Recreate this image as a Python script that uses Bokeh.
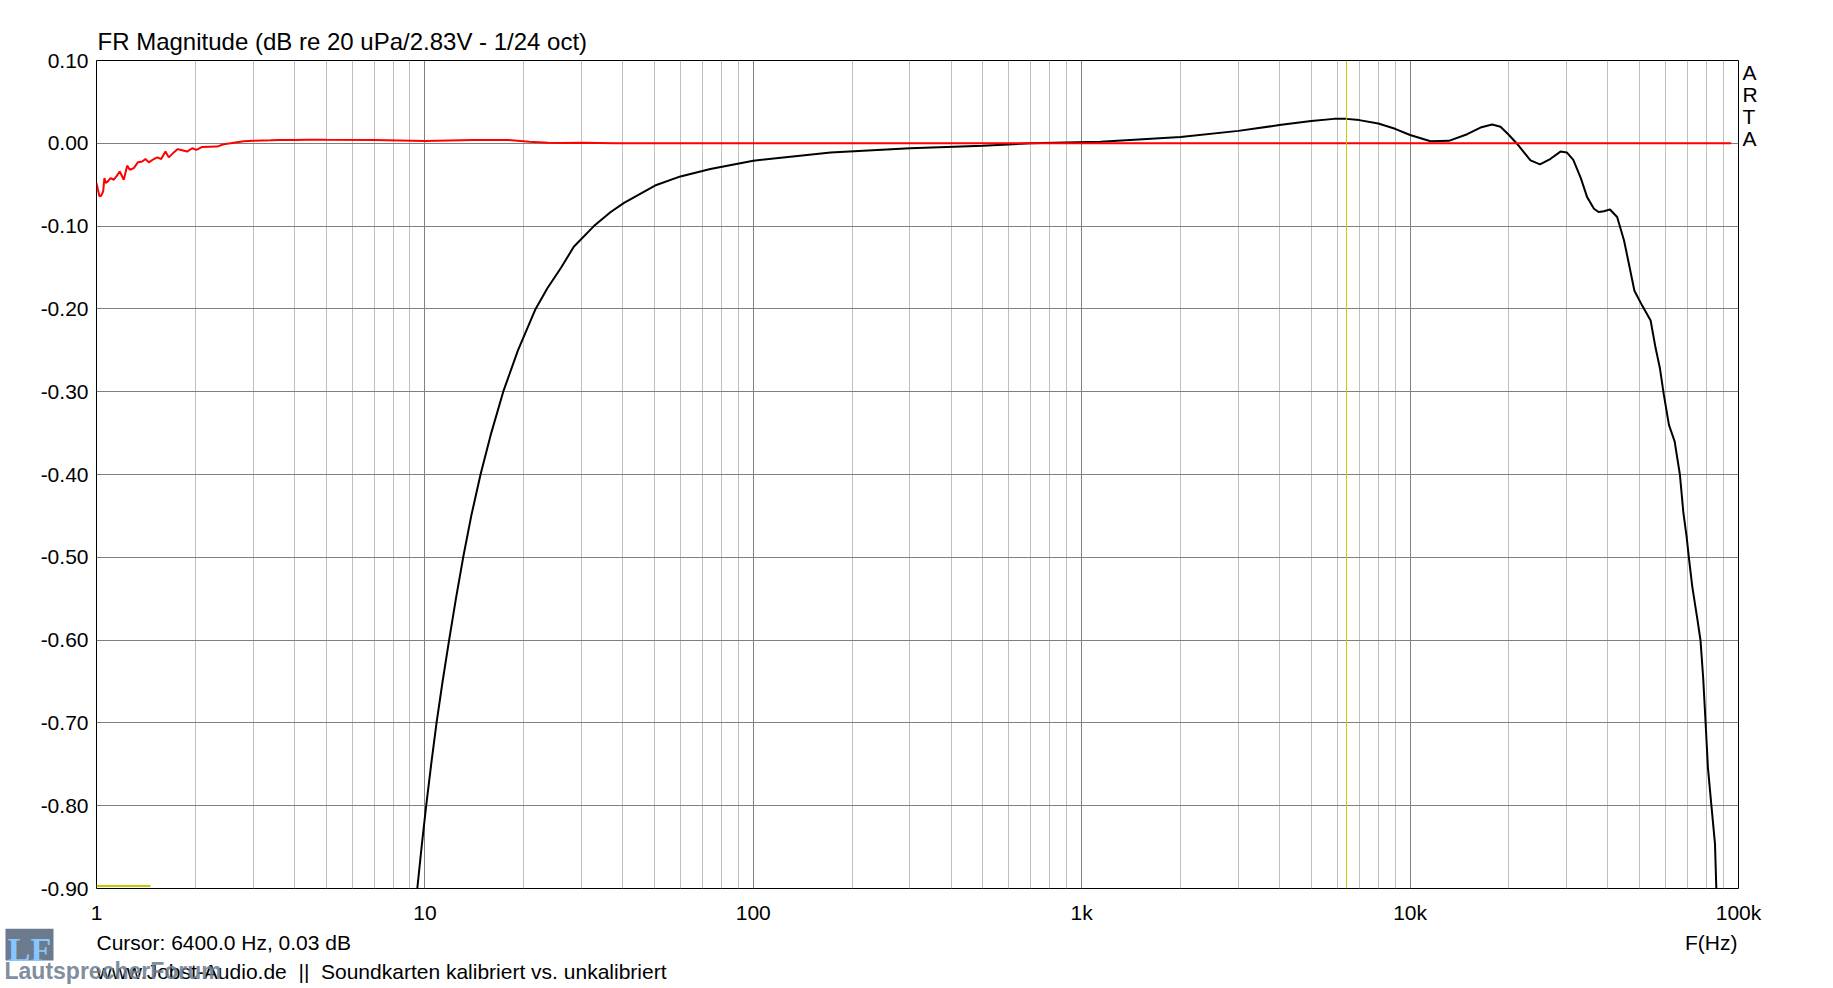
from bokeh.plotting import figure
from bokeh.layouts import column
from bokeh.models import (Range1d, FixedTicker, Label, Span, PrintfTickFormatter,
                          CustomJSTickFormatter, LinearAxis, Title)
from bokeh.embed import file_html
from bokeh.resources import INLINE

FONT = "Liberation Sans"

# ---- data ----
freq_black = [9.48, 9.77, 10.09, 10.45, 10.85, 11.32, 11.85, 12.43, 13.08, 13.84, 14.77, 15.92,
              17.32, 19.2, 21.73, 23.6, 26.0, 28.4, 32.7, 36.8, 40.4, 50.2, 60, 74, 100, 172, 300,
              500, 700, 1141, 2000, 3000, 4000, 5000, 5860, 6400, 7000, 8000, 9000, 10000, 11540,
              13120, 14920, 16380, 17780, 18850, 20000, 21190, 23260, 24860, 26780, 28700, 30000,
              31400, 33100, 34600, 36300, 37500, 38900, 40600, 42700, 44800, 46400, 48200, 50900,
              54000, 55900, 57600, 59200, 61400, 63900, 66300, 67900, 69500, 70600, 72300, 74900,
              76600, 78100, 79400, 80700, 82700, 84800, 85600]
db_black = [-0.90, -0.85, -0.80, -0.75, -0.70, -0.65, -0.60, -0.55, -0.50, -0.45, -0.40, -0.35,
            -0.30, -0.25, -0.20, -0.175, -0.15, -0.125, -0.10, -0.083, -0.072, -0.051, -0.040,
            -0.031, -0.021, -0.011, -0.006, -0.003, 0.0, 0.002, 0.0076, 0.015, 0.022, 0.027,
            0.0295, 0.0295, 0.028, 0.024, 0.0175, 0.010, 0.0024, 0.003, 0.011, 0.019, 0.0227,
            0.020, 0.010, -0.0008, -0.0207, -0.0255, -0.0187, -0.010, -0.011, -0.020, -0.042,
            -0.065, -0.079, -0.083, -0.082, -0.080, -0.089, -0.117, -0.146, -0.178, -0.196,
            -0.214, -0.247, -0.271, -0.303, -0.340, -0.360, -0.40, -0.445, -0.475, -0.50, -0.535,
            -0.574, -0.60, -0.647, -0.70, -0.754, -0.80, -0.846, -0.90]

freq_red = [1.0, 1.005, 1.021, 1.035, 1.048, 1.057, 1.067, 1.083, 1.103, 1.129, 1.150, 1.177, 1.211,
            1.240, 1.263, 1.299, 1.336, 1.378, 1.410, 1.443, 1.495, 1.530, 1.574, 1.622, 1.660,
            1.719, 1.768, 1.810, 1.888, 1.956, 2.016, 2.098, 2.33, 2.44, 2.56, 2.68, 2.81, 3.0,
            3.39, 3.63, 4.0, 4.38, 5.0, 7.0, 10.0, 14.0, 18.0, 20.8, 23.7, 26.0, 30.0, 34.0, 38.0,
            50.0, 100.0, 1000.0, 10000.0, 95000.0]
db_red = [-0.048, -0.052, -0.064, -0.063, -0.058, -0.042, -0.048, -0.046, -0.042, -0.044, -0.040,
          -0.034, -0.044, -0.027, -0.032, -0.030, -0.023, -0.022, -0.019, -0.023, -0.019, -0.017,
          -0.019, -0.010, -0.017, -0.011, -0.007, -0.008, -0.010, -0.006, -0.008, -0.0044, -0.004,
          -0.0012, 0.0, 0.0012, 0.0024, 0.003, 0.0036, 0.004, 0.004, 0.0044, 0.0042, 0.004, 0.0028,
          0.004, 0.004, 0.002, 0.0008, 0.0003, 0.0008, 0.0005, 0.0, 0.0, 0.0, 0.0, 0.0, 0.0]

cursor_freq = 6400.0
marker_freq = [1.0, 1.46]
marker_db = [-0.897, -0.897]

y_ticks = [0.10, 0.0, -0.10, -0.20, -0.30, -0.40, -0.50, -0.60, -0.70, -0.80, -0.90]
x_major = [1, 10, 100, 1000, 10000, 100000]
x_minor = [d * m for d in [1, 10, 100, 1000, 10000] for m in range(2, 10)]

title_text = "FR Magnitude (dB re 20 uPa/2.83V - 1/24 oct)"
cursor_text = "Cursor: 6400.0 Hz, 0.03 dB"
axis_text = "F(Hz)"
footer_text = "www.Jobst-Audio.de \u00a0|| \u00a0Soundkarten kalibriert vs. unkalibriert"
brand_letters_bottom_up = ["A", "T", "R", "A"]
brand_letter_levels = [0.0058, 0.0324, 0.0589, 0.0855]
logo_text = "LF"
forum_text = "LautsprecherForum"

W = 1832


def no_frame_align(f):
    try:
        f.frame_align = False
    except Exception:
        pass


# ---- main chart ----
p = figure(x_axis_type="log", x_range=Range1d(1, 100000), y_range=Range1d(-0.9, 0.1),
           frame_width=1642, frame_height=828,
           min_border_left=96, min_border_right=W - 96 - 1642, min_border_top=60, min_border_bottom=40,
           output_backend="svg", toolbar_location=None)
no_frame_align(p)
p.background_fill_color = "white"
p.border_fill_color = "white"
p.outline_line_color = "black"
p.outline_line_width = 1

p.add_layout(Title(text=title_text, align="left", offset=1, vertical_align="bottom", standoff=12,
                   text_font=FONT, text_font_size="24px", text_font_style="normal",
                   text_color="black"), "above")

xt = FixedTicker(ticks=x_major, minor_ticks=x_minor)
yt = FixedTicker(ticks=y_ticks, minor_ticks=[])
p.xaxis.ticker = xt
p.yaxis.ticker = yt
p.xgrid.ticker = xt
p.ygrid.ticker = yt
p.xaxis.formatter = CustomJSTickFormatter(
    code="return tick >= 1000 ? (Math.round(tick/1000)) + 'k' : String(Math.round(tick));")
p.yaxis.formatter = PrintfTickFormatter(format="%.2f")

brand_axis = LinearAxis(ticker=FixedTicker(ticks=brand_letter_levels, minor_ticks=[]),
                        formatter=CustomJSTickFormatter(
                            args=dict(letters=brand_letters_bottom_up),
                            code="return letters[index];"))
p.add_layout(brand_axis, "right")

for ax in (p.xaxis[0], p.yaxis[0], brand_axis):
    ax.axis_line_color = None
    ax.major_tick_line_color = None
    ax.minor_tick_line_color = None
    ax.major_tick_in = 0
    ax.major_tick_out = 0
    ax.minor_tick_in = 0
    ax.minor_tick_out = 0
    ax.major_label_text_font = FONT
    ax.major_label_text_font_size = "21px"
    ax.major_label_text_color = "black"
p.xaxis[0].major_label_standoff = 12
p.yaxis[0].major_label_standoff = 8
brand_axis.major_label_standoff = 4

p.xgrid.grid_line_color = "#808080"
p.xgrid.minor_grid_line_color = "#c0c0c0"
p.ygrid.grid_line_color = "#808080"

p.add_layout(Span(location=cursor_freq, dimension="height", line_color="#c8c800", line_width=1))
p.line(marker_freq, marker_db, line_color="#c8c800", line_width=2)

p.line(freq_black, db_black, line_color="black", line_width=2)
p.line(freq_red, db_red, line_color="#ff0000", line_width=2)

# ---- footer ----
FH = 59
footer = figure(width=W, height=FH, x_range=Range1d(0, W), y_range=Range1d(0, FH),
                min_border=0, min_border_left=0, min_border_right=0, min_border_top=0,
                min_border_bottom=0, x_axis_location=None, y_axis_location=None,
                output_backend="svg", toolbar_location=None)
no_frame_align(footer)
footer.grid.visible = False
footer.outline_line_color = None


def flab(text, x, y, size="21px", align="left", color="black", bold=False, font=FONT, alpha=1.0):
    footer.add_layout(Label(x=x, y=y, x_units="screen", y_units="screen", text=text,
                            text_font=font, text_font_size=size, text_align=align,
                            text_baseline="alphabetic", text_color=color, text_alpha=alpha,
                            text_font_style="bold" if bold else "normal"))


flab(cursor_text, 96, 45)
flab(axis_text, 1737, 45, align="right")
flab(footer_text, 96, 16)

# logo watermark
footer.quad(left=5, right=53, bottom=27, top=59, fill_color="#6b7a8c", line_color=None)
flab(logo_text, 29, 38, size="34px", align="center", color="#88c6ff", bold=True,
     font="Liberation Sans Narrow")
flab(forum_text, 4, 17, size="23px", color="#6e7e92", bold=True, alpha=0.9)

layout = column(p, footer, spacing=0)
open("out.html", "w").write(file_html(layout, INLINE))
